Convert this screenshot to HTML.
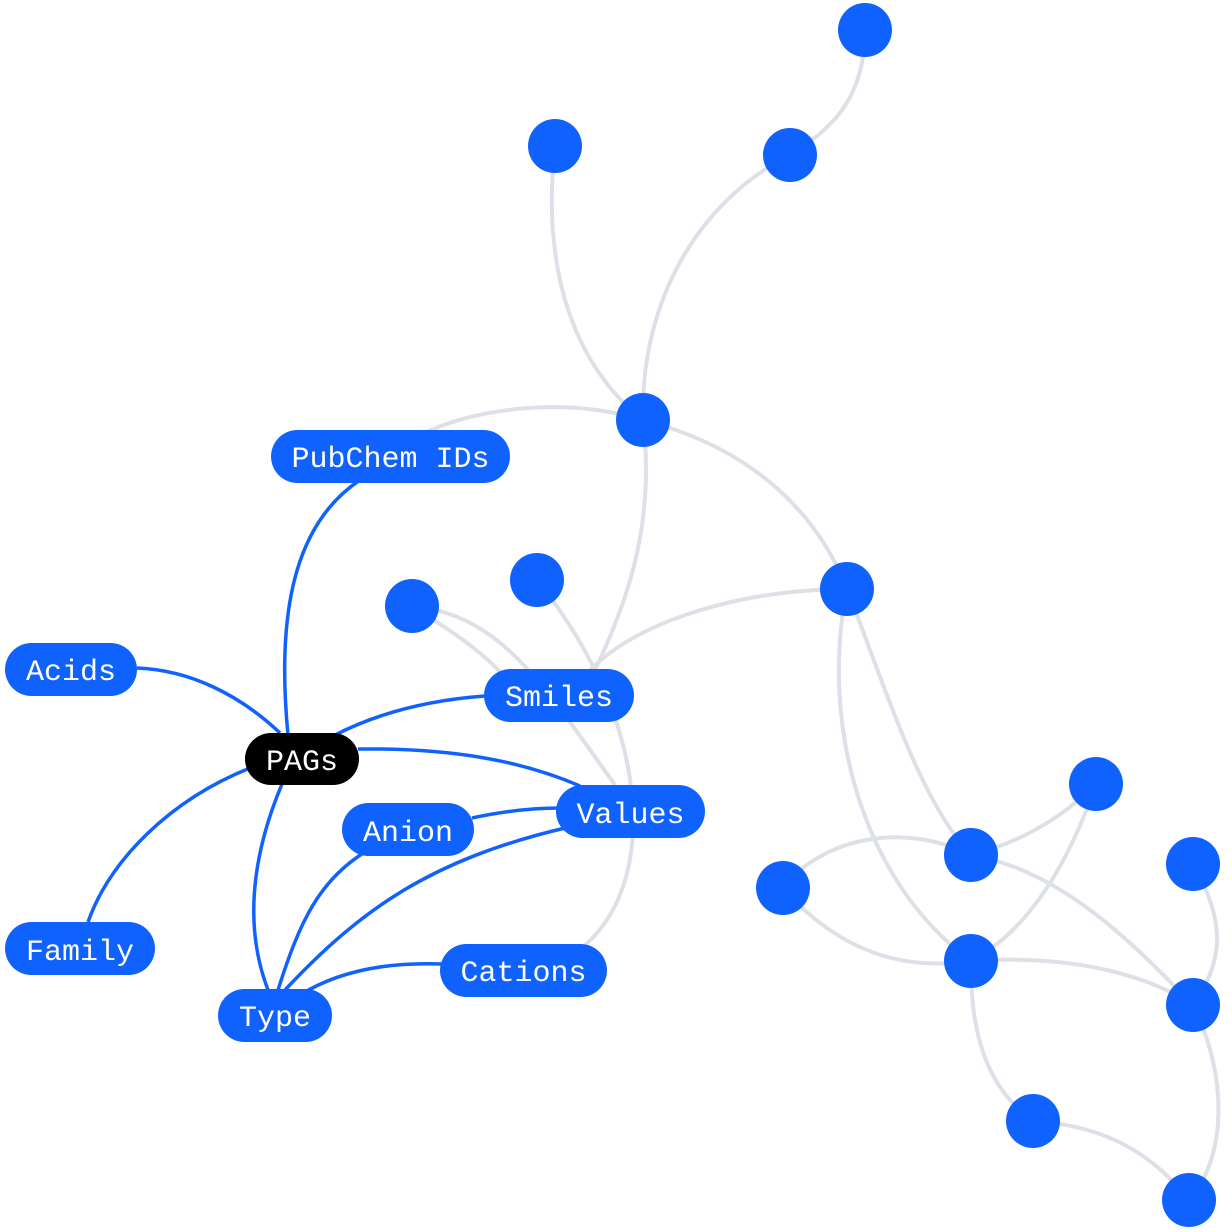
<!DOCTYPE html>
<html><head><meta charset="utf-8"><style>
html,body{margin:0;padding:0;background:#fff;width:1232px;height:1232px;overflow:hidden}
svg{display:block}
text{font-family:"Liberation Mono","DejaVu Sans Mono",monospace;font-size:30px;fill:#fff}
</style></head><body>
<svg width="1232" height="1232" viewBox="0 0 1232 1232">
<g fill="none" stroke="#dde0e6" stroke-width="4">
<path d="M865 30 C865 100 830 130 790 155"/>
<path d="M790 155 C700 200 640 300 643 420"/>
<path d="M555 146 C540 280 580 370 643 420"/>
<path d="M643 420 C560 395 470 410 420 435"/>
<path d="M643 420 C760 450 820 520 847 589"/>
<path d="M643 420 C655 520 630 600 590 680"/>
<path d="M847 589 C740 590 640 620 590 670"/>
<path d="M412 606 C500 615 540 680 615 785"/>
<path d="M412 606 C450 630 480 650 500 672"/>
<path d="M537 580 C650 720 660 880 585 945"/>
<path d="M847 589 C890 700 920 800 971 855"/>
<path d="M847 589 C820 720 860 880 971 961"/>
<path d="M971 855 C1030 840 1070 810 1096 784"/>
<path d="M783 888 C820 840 900 820 971 855"/>
<path d="M971 855 C1060 870 1130 940 1193 1005"/>
<path d="M783 888 C820 930 880 975 971 961"/>
<path d="M1096 784 C1070 860 1030 930 971 961"/>
<path d="M971 961 C1060 955 1140 970 1193 1005"/>
<path d="M1193 864 C1225 920 1225 960 1193 1005"/>
<path d="M971 961 C970 1040 990 1090 1033 1121"/>
<path d="M1033 1121 C1100 1125 1150 1150 1189 1200"/>
<path d="M1193 1005 C1230 1080 1225 1160 1189 1200"/>
</g>
<g fill="none" stroke="#0f62fe" stroke-width="3.5">
<path d="M288 735 C275 600 300 520 360 480"/>
<path d="M280 733 C240 695 190 670 137 668"/>
<path d="M250 768 C170 800 110 860 88 922"/>
<path d="M335 735 C380 712 430 700 485 696"/>
<path d="M358 749 C450 748 520 760 580 786"/>
<path d="M282 784 C250 860 245 930 268 990"/>
<path d="M278 990 C300 920 320 880 365 852"/>
<path d="M285 990 C360 910 430 860 565 828"/>
<path d="M300 995 C340 970 390 962 442 964"/>
<path d="M472 818 C500 812 530 808 560 808"/>
</g>
<g fill="#0f62fe">
<circle cx="865" cy="30" r="27"/><circle cx="555" cy="146" r="27"/><circle cx="790" cy="155" r="27"/>
<circle cx="643" cy="420" r="27"/><circle cx="847" cy="589" r="27"/><circle cx="412" cy="606" r="27"/>
<circle cx="537" cy="580" r="27"/><circle cx="971" cy="855" r="27"/><circle cx="1096" cy="784" r="27"/>
<circle cx="783" cy="888" r="27"/><circle cx="971" cy="961" r="27"/><circle cx="1193" cy="864" r="27"/>
<circle cx="1193" cy="1005" r="27"/><circle cx="1033" cy="1121" r="27"/><circle cx="1189" cy="1200" r="27"/>
<rect x="271" y="430" width="239" height="53" rx="26.5"/>
<rect x="5" y="643" width="132" height="53" rx="26.5"/>
<rect x="484" y="669" width="150" height="53" rx="26.5"/>
<rect x="556" y="785" width="149" height="53" rx="26.5"/>
<rect x="342" y="803" width="132" height="53" rx="26.5"/>
<rect x="5" y="922" width="150" height="53" rx="26.5"/>
<rect x="218" y="989" width="114" height="53" rx="26.5"/>
<rect x="440" y="944" width="167" height="53" rx="26.5"/>
</g>
<rect x="245" y="733" width="114" height="52" rx="26" fill="#000"/>
<g text-anchor="middle">
<text x="390.5" y="467">PubChem IDs</text>
<text x="71" y="680">Acids</text>
<text x="302" y="770">PAGs</text>
<text x="559" y="706">Smiles</text>
<text x="630.5" y="823">Values</text>
<text x="408" y="841">Anion</text>
<text x="80" y="960">Family</text>
<text x="275" y="1026">Type</text>
<text x="523.5" y="981">Cations</text>
</g>
</svg>
</body></html>
